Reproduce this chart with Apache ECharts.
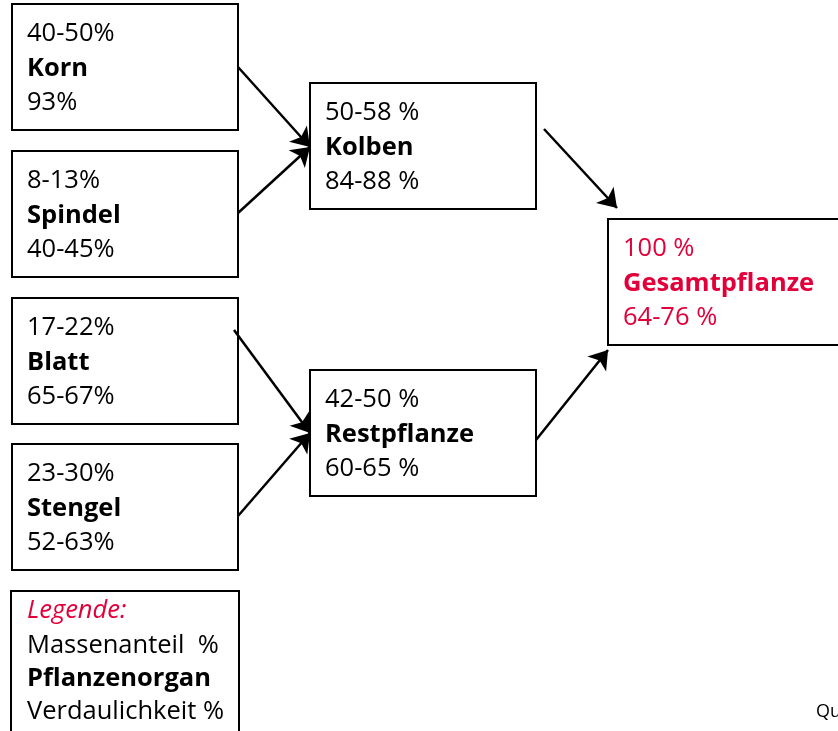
<!DOCTYPE html>
<html lang="de">
  <head>
    <meta charset="UTF-8" />
    <title>Mais – Massenanteil und Verdaulichkeit</title>
    <script src="https://cdn.jsdelivr.net/npm/echarts@6.0.0/dist/echarts.min.js"></script>
    <style>
      html, body { margin: 0; padding: 0; background: #fff; }
      #main { width: 838px; height: 731px; }
    </style>
  </head>
  <body>
    <div id="main"></div>
  </body>
  <script>
    //Pflanzenorgane
    const organs = ["Korn", "Spindel", "Blatt", "Stengel", "Kolben", "Restpflanze", "Gesamtpflanze"];
    //Massenanteil
    const massShare = ["40-50%", "8-13%", "17-22%", "23-30%", "50-58 %", "42-50 %", "100 %"];
    //Verdaulichkeit
    const digestibility = ["93%", "40-45%", "65-67%", "52-63%", "84-88 %", "60-65 %", "64-76 %"];
    //Zusammenfassung: von -> nach
    const links = [
      ["Korn", "Kolben"],
      ["Spindel", "Kolben"],
      ["Blatt", "Restpflanze"],
      ["Stengel", "Restpflanze"],
      ["Kolben", "Gesamtpflanze"],
      ["Restpflanze", "Gesamtpflanze"],
    ];
    const legendLines = ["Legende:", "Massenanteil  %", "Pflanzenorgan", "Verdaulichkeit %"];
    const sourceText = "Quelle:";

    //Layout (Pixel)
    const boxW = 226, boxH = 126;
    const boxPos = {
      Korn: [12, 4],
      Spindel: [12, 151],
      Blatt: [12, 298],
      Stengel: [12, 444],
      Kolben: [310, 83],
      Restpflanze: [310, 370],
      Gesamtpflanze: [608, 219],
    };
    const legendPos = [11, 591, 228, 160];
    //Pfeile: [dx, dy] ab rechtem Rand der Quelle, [dx, dy] ab linkem Rand des Ziels
    const arrowAnchors = [
      [[0, 63], [0, 64]],
      [[0, 62], [0, 64]],
      [[-4, 32], [0, 63]],
      [[0, 72], [0, 63]],
      [[8, 46], [9, -11]],
      [[0, 70], [0, 131]],
    ];
    const lineY = [30, 64.5, 99];
    const red = "#E2003A";
    const fontSize = 25.5;
    const fam = '"Open Sans", sans-serif';

    var chartDom = document.getElementById("main");
    var myChart = echarts.init(chartDom);

    function textEl(str, x, y, color, weight, style) {
      return {
        type: "text",
        style: {
          text: str,
          x: x,
          y: y,
          fill: color,
          font: (style || "normal") + " " + (weight || "normal") + " " + fontSize + "px " + fam,
          align: "left",
          verticalAlign: "middle",
        },
      };
    }

    function renderBox(params, api) {
      const i = api.value(2);
      const p = api.coord([api.value(0), api.value(1)]);
      const color = organs[i] === "Gesamtpflanze" ? red : "#000";
      const w = organs[i] === "Gesamtpflanze" ? boxW + 20 : boxW;
      return {
        type: "group",
        children: [
          {
            type: "rect",
            shape: { x: p[0], y: p[1], width: w, height: boxH },
            style: { fill: "#fff", stroke: "#000", lineWidth: 2 },
          },
          textEl(massShare[i], p[0] + 15, p[1] + lineY[0], color),
          textEl(organs[i], p[0] + 15, p[1] + lineY[1], color, "bold"),
          textEl(digestibility[i], p[0] + 15, p[1] + lineY[2], color),
        ],
      };
    }

    function renderLegend(params, api) {
      const p = api.coord([api.value(0), api.value(1)]);
      const ys = [20, 55, 88, 121];
      return {
        type: "group",
        children: [
          {
            type: "rect",
            shape: { x: p[0], y: p[1], width: legendPos[2], height: legendPos[3] },
            style: { fill: "#fff", stroke: "#000", lineWidth: 2 },
          },
          textEl(legendLines[0], p[0] + 16, p[1] + ys[0], red, "normal", "italic"),
          textEl(legendLines[1], p[0] + 16, p[1] + ys[1], "#000"),
          textEl(legendLines[2], p[0] + 16, p[1] + ys[2], "#000", "bold"),
          textEl(legendLines[3], p[0] + 16, p[1] + ys[3], "#000"),
        ],
      };
    }

    const boxData = organs.map((o, i) => [boxPos[o][0], boxPos[o][1], i]);
    const arrowData = links.map((l, i) => {
      const s = boxPos[l[0]], t = boxPos[l[1]];
      const a = arrowAnchors[i];
      return {
        coords: [
          [s[0] + boxW + a[0][0], s[1] + a[0][1]],
          [t[0] + a[1][0], t[1] + a[1][1]],
        ],
      };
    });

    var option = {
      animation: false,
      grid: { left: 0, right: 0, top: 0, bottom: 0 },
      xAxis: { type: "value", min: 0, max: 838, show: false },
      yAxis: { type: "value", min: 0, max: 731, inverse: true, show: false },
      graphic: [
        {
          type: "text",
          left: 816,
          top: 703,
          style: { text: sourceText, fill: "#000", font: "18px " + fam },
        },
      ],
      series: [
        {
          type: "lines",
          coordinateSystem: "cartesian2d",
          symbol: ["none", "arrow"],
          symbolSize: [14, 18],
          lineStyle: { color: "#000", width: 2.5, opacity: 1, curveness: 0 },
          itemStyle: { color: "#000" },
          data: arrowData,
          z: 3,
        },
        {
          type: "custom",
          renderItem: renderBox,
          data: boxData,
          z: 2,
        },
        {
          type: "custom",
          renderItem: renderLegend,
          data: [[legendPos[0], legendPos[1]]],
          z: 2,
        },
      ],
    };
    option && myChart.setOption(option);
  </script>
</html>
